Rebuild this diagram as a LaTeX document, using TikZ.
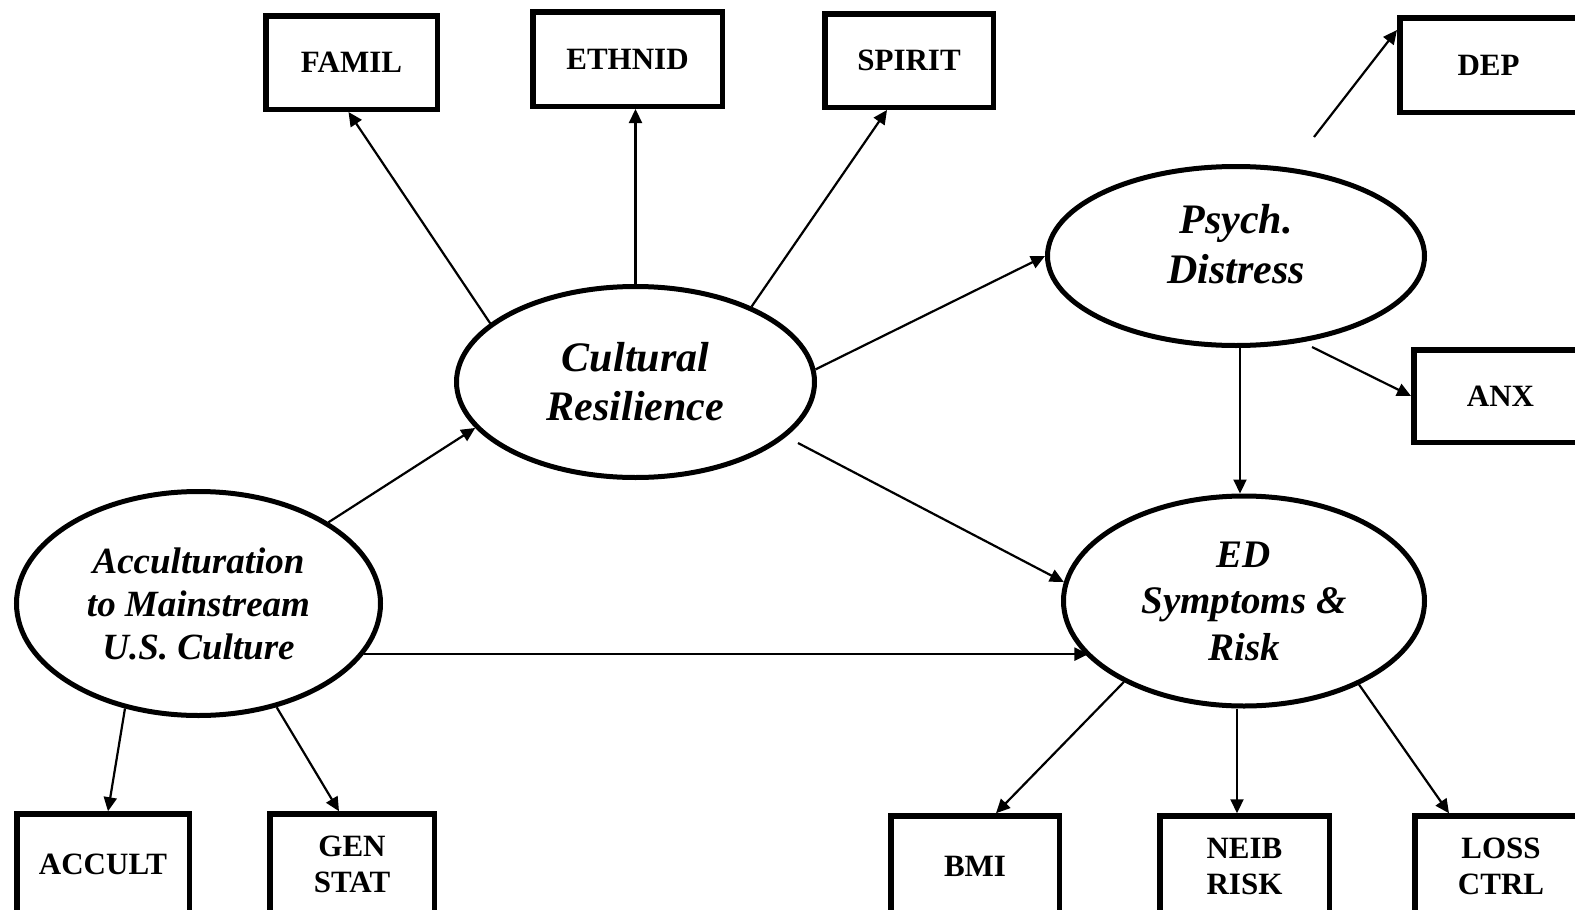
\documentclass[tikz,border=0pt]{standalone}
\usepackage{fontspec}
\setmainfont{Liberation Serif}
\usetikzlibrary{arrows.meta,calc,shapes.geometric}
\begin{document}
\begin{tikzpicture}[x=1pt,y=-1pt,
  obsbox/.style={draw,line width=5.5pt,rectangle,inner sep=0pt,align=center,
    font=\bfseries\fontsize{31}{36}\selectfont},
  latent/.style={draw,line width=5pt,ellipse,inner sep=0pt,align=center},
  ltext/.style={inner sep=0pt,align=center},
  arr/.style={line width=2.2pt,-{Triangle[length=14pt,width=13pt]}}]
\useasboundingbox (0,0) rectangle (1575,910);
\clip (0,0) rectangle (1575,910);
\fill[white] (0,0) rectangle (1575,910);
% observed boxes
\node[obsbox,minimum width=171.5pt,minimum height=93.5pt] (famil) at (351.5,62.5) {FAMIL};
\node[obsbox,minimum width=189.5pt,minimum height=94.5pt] (ethnid) at (627.5,59) {ETHNID};
\node[obsbox,minimum width=168.5pt,minimum height=93.5pt] (spirit) at (909,60.5) {SPIRIT};
\node[obsbox,minimum width=177.5pt,minimum height=94.5pt] (dep) at (1488.5,65) {DEP};
\node[obsbox,minimum width=173.5pt,minimum height=92.5pt] (anx) at (1500.5,396) {ANX};
\node[obsbox,minimum width=172.5pt,minimum height=100pt] (accult) at (103,864) {ACCULT};
\node[obsbox,minimum width=164.5pt,minimum height=100pt] (gen) at (352,864) {GEN\\STAT};
\node[obsbox,minimum width=168.5pt,minimum height=100pt] (bmi) at (975,866) {BMI};
\node[obsbox,minimum width=169.5pt,minimum height=100pt] (neib) at (1244.5,866) {NEIB\\RISK};
\node[obsbox,minimum width=172.5pt,minimum height=100pt] (loss) at (1501,866) {LOSS\\CTRL};
% latent ellipses
\node[latent,minimum width=358pt,minimum height=191pt,
  font=\bfseries\itshape\fontsize{42}{49}\selectfont] (cr) at (635.5,382) {Cultural\\Resilience};
\node[latent,minimum width=377pt,minimum height=179pt] (psy) at (1236,256) {};
\node[ltext,font=\bfseries\itshape\fontsize{42}{50}\selectfont] (psytext) at ($(psy.center)+(0,-12)$) {Psych.\\Distress};
\node[latent,minimum width=364pt,minimum height=224pt,
  font=\bfseries\itshape\fontsize{37}{43}\selectfont] (acc) at (198.5,603.5) {Acculturation\\to Mainstream\\U.S. Culture};
\node[latent,minimum width=361pt,minimum height=210pt,
  font=\bfseries\itshape\fontsize{39}{46.5}\selectfont] (ed) at (1244,601) {ED\\Symptoms \&\\Risk};
% connectors
\draw[arr] (cr.158) -- ($(famil.south)+(-3,0)$);
\draw[arr] (cr.north) -- (cr.north |- ethnid.south);
\draw[arr] (cr.33) -- ($(spirit.south)+(-22,0)$);
\draw[arr] (cr.4) -- (psy.west);
\draw[arr] ($(cr.center)+(162.5,61)$) -- (ed.174);
\draw[arr] (acc.32) -- (cr.196);
\draw[arr] (acc.-17.5) -- (acc.-17.5 -| ed.200);
\draw[arr] (acc.235) -- ($(accult.north)+(5,0)$);
\draw[arr] (acc.-53) -- ($(gen.north)+(-13,0)$);
\draw[arr] ($(psy.center)+(78,-119)$) -- ($(dep.north west)+(0,15)$);
\draw[arr] ($(psy.center)+(76,91)$) -- (anx.west);
\coordinate (psyb) at ($(psy.south)+(4,0)$);
\draw[arr] (psyb) -- (psyb |- ed.north);
\draw[arr] (ed.214) -- ($(bmi.north)+(21,0)$);
\coordinate (edb) at ($(ed.south)+(-7,0)$);
\draw[arr] (edb) -- (edb |- neib.north);
\draw[arr] (ed.-36) -- ($(loss.north west)+(37,0)$);
\end{tikzpicture}
\end{document}
